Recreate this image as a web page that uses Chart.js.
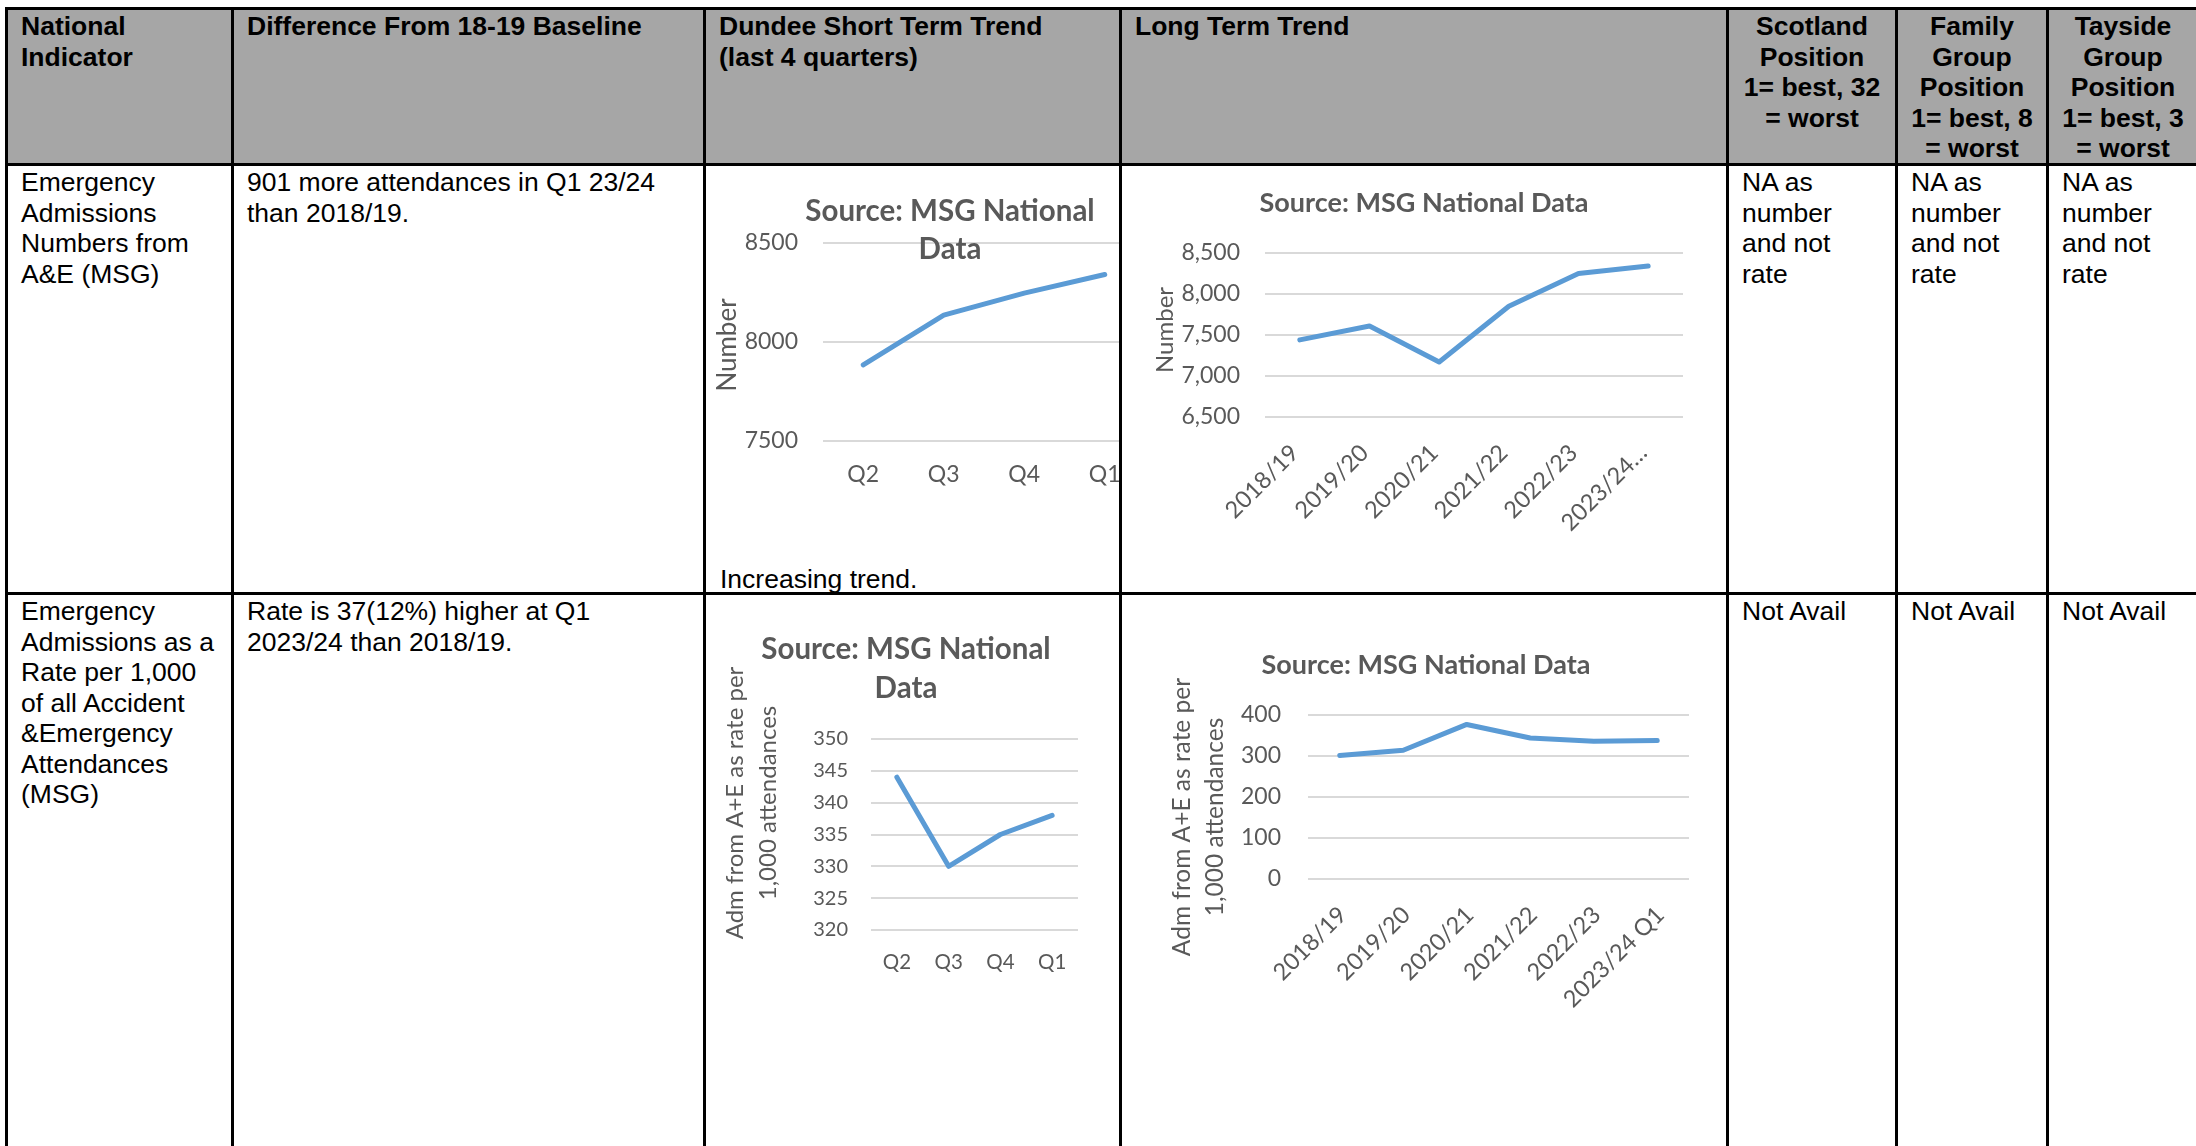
<!DOCTYPE html>
<html>
<head>
<meta charset="utf-8">
<script src="https://cdn.jsdelivr.net/npm/chart.js@4.4.1/dist/chart.umd.min.js"></script>
<style>
  body { margin: 0; background: #fff; }
  #page { position: relative; width: 2196px; height: 1146px; overflow: hidden;
          font-family: "Liberation Sans", Arial, sans-serif; font-size: 26.5px; line-height: 30.5px; color: #000; }
  .cell { position: absolute; box-sizing: border-box; border: 3px solid #000; padding: 1px 4px 0 13px; white-space: nowrap; }
  .head { background: #a6a6a6; font-weight: bold; }
  .ctr { text-align: center; padding-left: 4px; }
  .chart { position: absolute; }
  .clip { position: absolute; overflow: hidden; }
</style>
</head>
<body>
<div id="page">
  <div id="trendNote" style="position:absolute;left:720px;top:564px;">Increasing trend.</div>
  <div class="clip" style="left:706px;top:166px;width:413px;height:426px;">
    <div class="chart" style="left:0;top:0;width:488px;height:330px;"><canvas id="shortNum"></canvas></div>
  </div>
  <div class="chart" style="left:1122px;top:166px;width:604px;height:426px;"><canvas id="longNum"></canvas></div>
  <div class="chart" style="left:706px;top:595px;width:400px;height:405px;"><canvas id="shortRate"></canvas></div>
  <div class="chart" style="left:1122px;top:595px;width:608px;height:551px;"><canvas id="longRate"></canvas></div>
</div>
<script>
// chart data
const quarters = ['Q2', 'Q3', 'Q4', 'Q1'];
const years = ['2018/19', '2019/20', '2020/21', '2021/22', '2022/23', '2023/24 Q1'];

const shortNumbers = [7884, 8136, 8247, 8341];
const longNumbers = [7440, 7610, 7170, 7850, 8250, 8341];
const shortRates = [344, 330, 335, 338];
const longRates = [301, 314, 377, 344, 336, 338];

const shortNumberTicks = [7500, 8000, 8500];
const longNumberTicks = [6500, 7000, 7500, 8000, 8500];
const shortRateTicks = [320, 325, 330, 335, 340, 345, 350];
const longRateTicks = [0, 100, 200, 300, 400];

// table
const colEdges = [5, 231, 703, 1119, 1726, 1895, 2046, 2197];
const rowEdges = [7, 163, 592, 1200];
const na = 'NA as<br>number<br>and not<br>rate';
const tableText = [
  ['National<br>Indicator', 'Difference From 18-19 Baseline', 'Dundee Short Term Trend<br>(last 4 quarters)', 'Long Term Trend',
   'Scotland<br>Position<br>1= best, 32<br>= worst', 'Family<br>Group<br>Position<br>1= best, 8<br>= worst', 'Tayside<br>Group<br>Position<br>1= best, 3<br>= worst'],
  ['Emergency<br>Admissions<br>Numbers from<br>A&amp;E (MSG)', '901 more attendances in Q1 23/24<br>than 2018/19.', '', '', na, na, na],
  ['Emergency<br>Admissions as a<br>Rate per 1,000<br>of all Accident<br>&amp;Emergency<br>Attendances<br>(MSG)', 'Rate is 37(12%) higher at Q1<br>2023/24 than 2018/19.', '', '', 'Not Avail', 'Not Avail', 'Not Avail']
];

const page = document.getElementById('page');
tableText.forEach((row, r) => {
  row.forEach((txt, c) => {
    const d = document.createElement('div');
    d.className = 'cell' + (r === 0 ? ' head' : '') + (r === 0 && c > 3 ? ' ctr' : '');
    d.style.left = colEdges[c] + 'px';
    d.style.top = rowEdges[r] + 'px';
    d.style.width = (colEdges[c + 1] - colEdges[c] + 3) + 'px';
    d.style.height = (rowEdges[r + 1] - rowEdges[r] + 3) + 'px';
    d.innerHTML = txt;
    page.insertBefore(d, page.firstChild);
  });
});

// rotated y axis title drawn beside the value axis
const yTitlePlugin = {
  id: 'yTitle',
  afterDraw(chart, args, o) {
    const { ctx, chartArea } = chart;
    ctx.save();
    ctx.fillStyle = '#595959';
    ctx.font = o.size + 'px Lato';
    ctx.textAlign = 'center';
    ctx.textBaseline = 'middle';
    ctx.translate(o.x, (chartArea.top + chartArea.bottom) / 2 + o.shift);
    ctx.rotate(-Math.PI / 2);
    o.lines.forEach((t, i) => ctx.fillText(t, 0, i * o.lh));
    ctx.restore();
  }
};

function trendChart(id, s) {
  const ticks = s.ticks;
  const xFmt = s.xFmt || (l => l);
  return new Chart(document.getElementById(id), {
    type: 'line',
    data: {
      labels: s.labels,
      datasets: [{
        data: s.values,
        borderColor: '#5b9bd5',
        borderWidth: 5,
        borderCapStyle: 'round',
        borderJoinStyle: 'round',
        pointRadius: 0,
        tension: 0
      }]
    },
    plugins: [yTitlePlugin],
    options: {
      responsive: true,
      maintainAspectRatio: false,
      animation: false,
      events: [],
      layout: { padding: 0 },
      plugins: {
        legend: { display: false },
        tooltip: { enabled: false },
        title: {
          display: true,
          text: s.title,
          color: '#595959',
          font: { family: 'Lato', weight: 'bold', size: s.titleSize, lineHeight: s.titleLh },
          padding: { top: s.titleTop, bottom: s.titleBottom }
        },
        yTitle: s.yTitle
      },
      scales: {
        x: {
          offset: true,
          grid: { display: false, drawTicks: false },
          border: { display: false },
          ticks: {
            color: '#595959',
            font: { family: 'Lato', size: s.xSize },
            padding: s.xPad,
            labelOffset: s.xShift || 0,
            autoSkip: false,
            minRotation: s.rot,
            maxRotation: s.rot,
            callback: function (v) { return xFmt(this.getLabelForValue(v)); }
          },
          afterFit: sc => { sc.height = s.xHeight; }
        },
        y: {
          min: ticks[0],
          max: ticks[ticks.length - 1],
          grid: { color: '#d9d9d9', lineWidth: 2, drawTicks: false },
          border: { display: false },
          ticks: {
            stepSize: ticks[1] - ticks[0],
            color: '#595959',
            font: { family: 'Lato', size: s.ySize },
            padding: s.yPad,
            callback: s.yFmt
          },
          afterFit: sc => { sc.width = s.yWidth; }
        },
        pad: {
          position: 'right',
          grid: { display: false, drawTicks: false },
          border: { display: false },
          ticks: { display: false },
          afterFit: sc => { sc.width = s.padRight; }
        }
      }
    }
  });
}

trendChart('shortNum', {
  labels: quarters, values: shortNumbers, ticks: shortNumberTicks,
  title: ['Source: MSG National', 'Data'], titleSize: 29.5, titleLh: 38.3 / 29.5, titleTop: 26.5, titleBottom: -26.1,
  yWidth: 117, yPad: 25, ySize: 23, yFmt: v => String(v),
  xHeight: 55, xPad: 20, xSize: 23, rot: 0, padRight: 49,
  yTitle: { lines: ['Number'], x: 22, shift: 3, size: 26, lh: 0 }
});

trendChart('longNum', {
  labels: years, values: longNumbers, ticks: longNumberTicks,
  title: 'Source: MSG National Data', titleSize: 27, titleLh: 1.2, titleTop: 20.8, titleBottom: 33.8,
  yWidth: 143, yPad: 25, ySize: 23, yFmt: v => v.toLocaleString('en-GB'),
  xHeight: 175, xPad: 22, xSize: 23.5, rot: 45, xShift: -5, padRight: 43,
  xFmt: l => (l.length > 8 ? l.slice(0, 7) + '\u2026' : l),
  yTitle: { lines: ['Number'], x: 43, shift: -5, size: 24, lh: 0 }
});

trendChart('shortRate', {
  labels: quarters, values: shortRates, ticks: shortRateTicks,
  title: ['Source: MSG National', 'Data'], titleSize: 29.5, titleLh: 39 / 29.5, titleTop: 34.8, titleBottom: 31.2,
  yWidth: 165, yPad: 23, ySize: 20, yFmt: v => String(v),
  xHeight: 70, xPad: 20, xSize: 20.5, rot: 0, padRight: 28,
  yTitle: { lines: ['Adm from A+E as rate per', '1,000 attendances'], x: 29, shift: -31.5, size: 24, lh: 33 }
});

trendChart('longRate', {
  labels: years, values: longRates, ticks: longRateTicks,
  title: 'Source: MSG National Data', titleSize: 27, titleLh: 1.2, titleTop: 53.8, titleBottom: 33.8,
  yWidth: 186, yPad: 27, ySize: 23, yFmt: v => String(v),
  xHeight: 267, xPad: 22, xSize: 23.5, rot: 45, xShift: 3, padRight: 41,
  yTitle: { lines: ['Adm from A+E as rate per', '1,000 attendances'], x: 60, shift: 20, size: 24.5, lh: 33 }
});
</script>
</body>
</html>
